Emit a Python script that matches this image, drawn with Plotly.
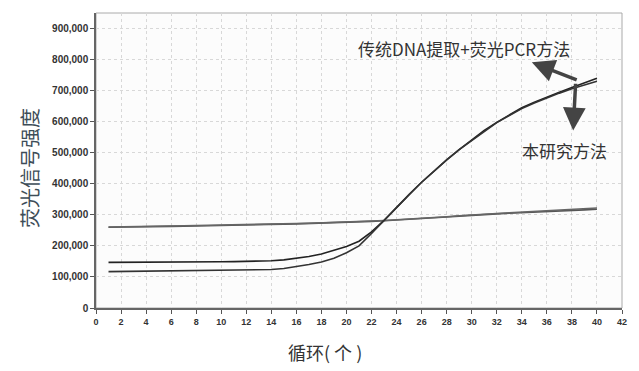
import plotly.graph_objects as go

cycles = list(range(1, 41))

# 本研究方法 / 传统方法 amplification curves (fluorescence values)
curve_a = [147000, 147000, 147000, 147000, 147500, 147500, 148000, 148000, 148500, 149000,
           149500, 150000, 151000, 152000, 155000, 160000, 166000, 174000, 185000, 198000,
           215000, 245000, 282000, 325000, 365000, 405000, 442000, 477000, 510000, 542000,
           572000, 598000, 622000, 645000, 663000, 680000, 695000, 710000, 725000, 740000]
curve_b = [117000, 117500, 118000, 118000, 118500, 118500, 119000, 119000, 119500, 120000,
           121000, 122000, 123000, 124000, 127000, 133000, 140000, 148000, 160000, 178000,
           200000, 240000, 282000, 325000, 365000, 405000, 442000, 477000, 510000, 540000,
           570000, 597000, 620000, 642000, 660000, 677000, 692000, 706000, 718000, 730000]
# 阴性/基线曲线
flat_a = [260000, 261000, 262000, 262000, 262500, 263000, 263500, 264000, 264500, 265000,
          266000, 267000, 268000, 269000, 270000, 271000, 272000, 273000, 274000, 275000,
          277000, 279000, 281000, 283000, 285000, 287500, 290000, 293000, 296000, 299000,
          301000, 303000, 305000, 306500, 308000, 310000, 312000, 314000, 316000, 318000]
flat_b = [261000, 262000, 263000, 263500, 264000, 264500, 265000, 265500, 266000, 266500,
          267000, 268000, 269000, 270000, 271000, 272000, 273000, 274000, 275000, 276000,
          278000, 280000, 282000, 284000, 286000, 288500, 291000, 294000, 297000, 300000,
          302000, 304500, 306500, 308500, 310500, 312500, 314500, 317000, 319500, 322000]

x_ticks = list(range(0, 43, 2))
y_ticks = list(range(0, 900001, 100000))
y_tick_labels = ["0"] + [f"{v:,}" for v in y_ticks[1:]]

label_traditional = "传统DNA提取+荧光PCR方法"
label_this = "本研究方法"
x_title = "循环( 个 )"
y_title = "荧光信号强度"

fig = go.Figure()
for ys, col in [(flat_a, "#555555"), (flat_b, "#666666"), (curve_a, "#222222"), (curve_b, "#333333")]:
    fig.add_trace(go.Scatter(x=cycles, y=ys, mode="lines",
                             line=dict(color=col, width=1.6), showlegend=False))

axis_font = dict(family="Liberation Sans, Arial", color="#333333")

fig.update_layout(
    width=639, height=371,
    margin=dict(l=96, r=17, t=13, b=63),
    paper_bgcolor="white",
    plot_bgcolor="#fcfcfc",
    xaxis=dict(range=[0, 42], tickvals=x_ticks, ticks="outside", ticklen=4, tickcolor="#555",
               showline=True, linecolor="#666", linewidth=1.5,
               showgrid=True, gridcolor="#d8d8d8", griddash="dot", gridwidth=1,
               zeroline=False,
               tickfont=dict(size=9, weight="bold", **axis_font)),
    yaxis=dict(range=[0, 950000], tickvals=y_ticks, ticktext=y_tick_labels,
               ticks="outside", ticklen=4, tickcolor="#555",
               showline=True, linecolor="#666", linewidth=1.5,
               showgrid=True, gridcolor="#d8d8d8", griddash="dot", gridwidth=1,
               zeroline=False,
               tickfont=dict(size=10, weight="bold", **axis_font)),
)

# axis titles placed as annotations
fig.add_annotation(x=0.435, y=-0.149, xref="paper", yref="paper", text=x_title, showarrow=False,
                   xanchor="center", yanchor="middle",
                   font=dict(family="Noto Sans CJK SC", size=18, color="#333333"))
fig.add_annotation(x=-0.1255, y=0.4746, xref="paper", yref="paper", text=y_title, showarrow=False,
                   textangle=-90, xanchor="center", yanchor="middle",
                   font=dict(family="Noto Sans CJK SC", size=20, color="#3d4d58"))

# light border on top and right
fig.add_shape(type="rect", xref="paper", yref="paper", x0=0, y0=0, x1=1, y1=1,
              line=dict(color="#aaaaaa", width=1), layer="below")

# arrows
fig.add_annotation(x=34.8, y=791000, ax=38.5, ay=733000, axref="x", ayref="y",
                   xref="x", yref="y", text="", showarrow=True,
                   arrowhead=2, arrowsize=1.3, arrowwidth=3.5, arrowcolor="#444444")
fig.add_annotation(x=38.1, y=572000, ax=38.3, ay=727000, axref="x", ayref="y",
                   xref="x", yref="y", text="", showarrow=True,
                   arrowhead=2, arrowsize=1.3, arrowwidth=3.5, arrowcolor="#444444")

fig.add_annotation(x=29.4, y=836000, xref="x", yref="y", text=label_traditional, showarrow=False,
                   xanchor="center", yanchor="middle",
                   font=dict(family="Noto Sans CJK SC", size=17, color="#333333"))
fig.add_annotation(x=37.4, y=508000, xref="x", yref="y", text=label_this, showarrow=False,
                   xanchor="center", yanchor="middle",
                   font=dict(family="Noto Sans CJK SC", size=17, color="#333333"))

fig.write_html("out.html")
